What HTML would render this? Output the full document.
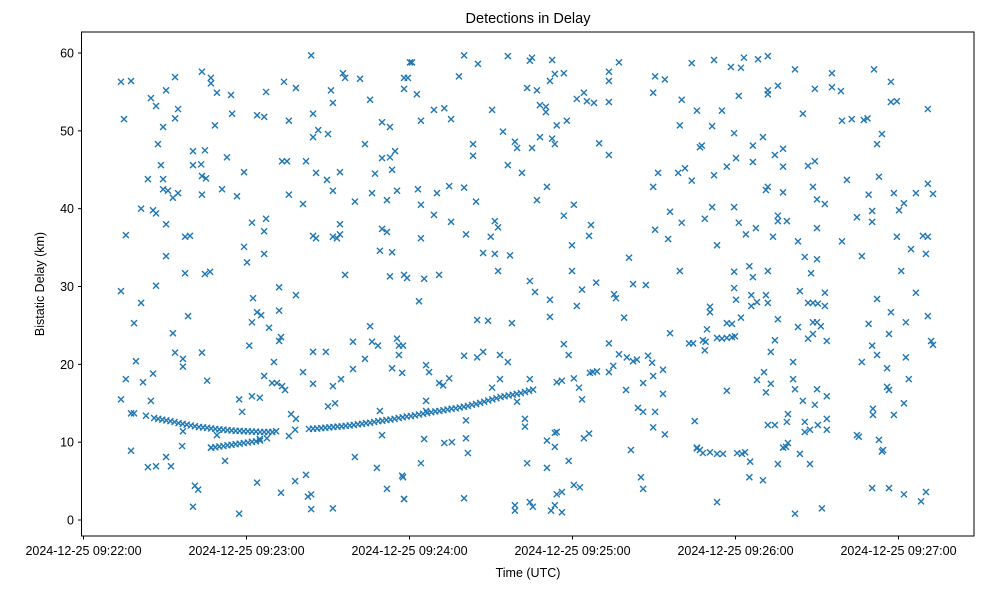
<!DOCTYPE html>
<html><head><meta charset="utf-8"><style>
html,body{margin:0;padding:0;background:#fff;}
svg text{font-family:"Liberation Sans","DejaVu Sans",sans-serif;fill:#000;}
</style></head><body>
<svg id="chart" width="983" height="590" viewBox="0 0 983 590" xmlns="http://www.w3.org/2000/svg">
<rect width="983" height="590" fill="#fff"/>
<text x="528" y="23" font-size="14.5" text-anchor="middle">Detections in Delay</text>
<text x="528" y="577" font-size="12.5" text-anchor="middle">Time (UTC)</text>
<text x="44" y="284" font-size="12.5" text-anchor="middle" transform="rotate(-90 44 284)">Bistatic Delay (km)</text>
<g id="marks"></g>
<g id="axes"></g>
<rect x="81.5" y="32" width="892.5" height="504" fill="none" stroke="#000" stroke-width="1"/>
</svg>
<script>
const xTickLabels = ["2024-12-25 09:22:00","2024-12-25 09:23:00","2024-12-25 09:24:00","2024-12-25 09:25:00","2024-12-25 09:26:00","2024-12-25 09:27:00"];
const xTickSeconds = [0,60,120,180,240,300];
const yTickValues = [0,10,20,30,40,50,60];
// seconds after 09:22:00 and delay in km
const scatterTimes = [13.8,17.5,14.9,24.8,26.7,30.4,33.7,34.8,33.7,29.3,27.4,28.5,23.7,29.3,29.3,31.1,32.9,34.8,21.2,25.6,26.7,30.4,15.6,37.4,39.2,30.4,37.4,44.7,46.6,43.6,46.9,46.9,49.1,54.3,48.4,54.7,40.3,44.7,40.3,43.3,43.6,45.1,43.6,51.0,56.5,52.8,59.1,62.0,67.2,66.5,59.1,60.2,66.5,63.9,66.5,67.2,73.8,78.2,75.6,83.8,84.5,86.4,84.5,90.0,91.1,91.8,95.5,96.3,101.8,105.5,73.1,74.9,81.9,85.6,89.6,94.4,91.8,75.6,80.8,103.6,99.9,106.2,107.3,109.9,112.8,109.9,112.8,114.7,113.6,115.4,111.7,84.5,85.6,91.8,93.3,94.4,94.4,109.9,111.7,109.1,113.6,96.3,112.8,118.0,118.0,118.0,120.2,
13.8,26.7,21.2,18.6,38.5,32.9,15.6,19.3,21.9,25.6,13.8,24.8,17.5,18.6,23.0,33.7,36.6,36.6,43.6,45.5,36.6,36.3,17.5,30.4,23.7,26.7,32.2,41.0,42.2,40.3,57.3,52.1,46.9,49.1,62.4,72.0,78.2,63.9,65.4,72.0,62.0,68.3,72.0,72.7,61.0,70.1,66.5,69.4,71.2,73.1,74.2,57.3,62.0,64.9,58.4,80.8,84.5,84.5,89.2,91.8,94.8,90.0,92.6,99.2,99.2,103.6,105.5,106.2,108.4,115.4,116.1,116.1,117.6,113.6,117.3,109.1,109.9,76.4,78.2,77.9,75.6,70.9,64.9,67.5,99.9,108.0,117.3,111.7,118.0,63.9,72.7,77.9,81.9,82.6,83.8,83.8,91.8,
119.1,125.4,130.9,123.5,144.9,148.9,157.7,164.3,166.2,171.7,171.7,181.6,183.5,188.7,195.3,196.0,202.3,207.0,199.0,215.9,222.9,224.4,193.4,197.1,200.0,202.3,203.7,207.8,209.3,213.3,209.7,206.0,199.7,213.3,204.1,206.0,210.4,209.7,214.0,225.0,225.8,201.5,205.2,206.0,193.4,195.0,186.4,187.5,189.0,176.8,178.6,174.2,176.1,180.5,182.4,183.5,144.9,147.1,153.3,156.2,140.1,126.1,127.2,130.9,132.4,134.6,150.4,153.3,164.3,126.1,126.1,140.8,159.6,162.5,162.5,125.4,132.8,135.6,140.8,141.5,124.2,163.3,170.6,178.6,170.6,173.5,174.2,173.5,184.2,186.1,117.6,118.0,140.1,158.8,158.8,164.3,165.4,172.1,173.5,176.1,174.2,176.1,180.5,182.7,
120.9,119.4,122.7,140.1,145.2,138.2,156.2,164.3,165.1,172.5,163.3,166.9,171.7,173.5,176.8,193.4,193.4,197.1,193.4,181.6,184.2,185.3,187.9,210.4,214.0,209.7,223.9,220.2,225.8,219.5,129.0,132.8,135.3,124.2,150.4,168.0,170.2,170.2,174.2,177.9,154.4,158.8,159.6,165.1,168.0,172.5,173.5,189.8,193.4,143.4,143.4,156.2,161.4,123.1,130.1,134.6,140.1,144.5,124.2,129.0,135.3,140.8,124.2,151.4,152.6,149.9,166.9,170.6,176.8,180.5,186.8,186.1,179.8,147.1,151.4,157.0,152.6,179.8,200.8,209.7,211.5,218.9,221.4,223.9,215.9,220.2,210.4,215.2,219.5,226.9,
232.1,238.3,242.0,243.1,248.3,251.9,261.9,275.5,291.0,297.2,241.2,251.9,251.9,255.6,269.2,275.5,278.8,297.2,299.4,310.8,235.0,264.8,279.2,282.8,287.2,288.6,231.4,239.5,250.1,293.9,292.1,227.6,246.4,240.2,236.8,246.4,254.5,257.5,257.5,266.7,269.2,232.1,251.2,251.9,257.5,268.5,281.0,292.8,310.8,312.7,298.3,306.4,289.0,270.0,272.9,302.0,300.2,290.3,290.3,284.7,231.4,239.5,228.7,241.2,247.5,243.8,255.6,255.6,258.9,253.8,270.0,263.0,279.2,299.4,309.0,310.8,304.6,310.1,233.2,265.5,270.0,286.5,239.5,245.1,246.4,251.9,267.8,301.0,
239.5,240.2,245.8,245.8,247.9,251.2,251.9,263.7,272.9,266.7,268.5,270.3,272.9,230.6,230.6,236.8,238.7,242.0,255.6,263.0,268.5,270.0,271.4,268.5,266.7,273.6,254.5,253.0,229.5,228.7,261.2,250.5,247.9,253.0,251.2,261.2,261.9,270.0,273.6,264.8,269.2,236.8,251.9,254.5,258.9,259.3,265.5,265.5,267.4,270.3,273.6,273.6,245.4,255.6,245.1,250.1,233.2,257.5,259.3,258.6,263.7,267.4,261.9,271.8,
289.0,297.2,302.7,310.8,306.4,292.1,296.5,290.3,292.1,286.5,295.8,302.7,303.8,312.0,312.7,295.8,296.5,302.0,290.6,290.6,298.3,284.7,285.4,292.8,294.3,293.9,290.3,296.5,302.0,310.1,308.3,
225.8,226.9,228.0,230.6,233.2,235.4,240.6,242.4,243.5,228.0,229.0,233.2,235.0,236.8,238.7,239.8];
const scatterDelays = [56.3,56.4,51.5,54.2,53.2,55.2,56.9,52.8,51.6,50.5,48.3,45.6,43.8,43.8,42.5,42.3,41.4,42.0,40.0,39.8,39.4,38.0,36.6,36.4,36.5,33.9,31.7,31.6,31.9,57.6,56.8,56.1,54.9,54.6,50.7,52.2,47.4,47.5,45.6,45.7,44.2,43.9,41.8,42.5,41.6,46.6,44.7,38.2,38.7,37.1,35.1,33.1,34.2,52.0,51.8,55.0,56.3,55.5,51.3,59.7,52.2,50.1,49.2,49.6,55.2,53.6,57.4,56.8,56.7,54.0,46.1,46.1,46.1,44.6,43.7,44.7,42.3,41.8,40.6,48.3,40.9,42.0,44.5,51.1,50.5,46.5,46.6,47.4,45.0,42.3,41.1,36.5,36.2,36.4,36.2,36.7,38.0,37.4,37.0,34.6,34.4,31.5,31.3,31.5,56.8,55.4,58.8,
29.4,30.1,27.9,25.3,26.2,24.0,18.1,20.4,17.7,18.8,15.5,15.3,13.7,13.7,13.4,21.5,20.7,19.7,21.5,17.9,11.4,9.5,8.9,8.1,6.8,6.9,6.9,4.4,3.9,1.7,0.8,7.6,9.3,10.9,28.5,29.9,28.9,26.7,26.3,26.9,25.4,24.7,23.0,23.5,22.4,20.3,18.5,17.6,17.6,17.2,16.7,15.5,15.9,15.7,13.9,19.0,17.5,21.6,21.6,17.2,18.1,14.6,15.0,22.9,19.4,20.7,24.9,22.9,22.4,23.3,22.4,21.2,22.4,19.5,18.9,14.0,10.9,13.6,13.0,11.6,10.8,11.4,10.4,10.5,8.1,6.7,5.7,4.0,2.7,4.8,3.5,5.0,5.8,3.0,3.3,1.4,1.5,
31.1,31.0,31.5,28.1,25.7,25.6,25.3,30.7,29.3,28.3,26.1,27.5,29.6,30.5,29.0,28.5,30.3,30.2,26.0,24.0,22.7,22.7,22.7,21.3,20.9,20.4,20.6,21.1,20.2,19.3,18.5,17.6,16.7,16.2,14.4,13.9,13.9,11.9,11.0,12.7,9.2,9.0,5.5,4.0,19.0,19.8,18.9,19.0,19.1,22.6,21.2,17.7,17.9,18.2,17.0,15.5,20.9,21.6,21.2,20.3,21.1,19.9,19.0,17.6,17.3,18.2,17.0,18.1,18.1,15.3,14.0,12.8,15.2,13.0,12.0,10.4,9.9,10.0,10.5,8.6,7.3,7.3,6.7,7.6,10.2,11.2,11.3,9.4,10.5,11.1,5.5,2.7,2.8,1.9,1.2,2.3,1.7,1.2,1.9,1.0,3.3,3.6,4.5,4.2,
58.8,56.8,54.7,59.7,58.6,57.0,59.6,59.0,59.4,59.1,55.5,55.2,56.4,57.3,57.4,57.6,56.4,58.8,53.7,54.1,54.9,53.8,53.6,57.0,56.6,54.9,58.7,54.0,52.6,50.7,52.7,52.9,51.5,51.3,52.7,53.3,53.1,52.4,50.7,51.3,49.9,48.6,47.8,47.8,49.2,49.0,48.3,48.4,46.9,48.3,46.8,45.6,44.6,42.5,42.0,42.9,42.7,40.9,40.5,39.2,38.3,36.7,36.2,38.4,37.6,36.4,41.1,42.8,39.1,40.5,37.9,36.5,35.3,34.3,34.2,34.0,32.0,32.0,33.7,42.8,44.6,44.6,45.2,43.6,39.6,38.2,37.3,36.1,32.0,47.9,
59.1,58.2,58.1,59.4,59.2,59.6,57.9,57.4,57.9,56.3,54.5,55.2,54.7,55.8,55.4,55.6,55.1,53.7,53.8,52.8,52.6,52.2,51.3,51.5,51.4,51.6,50.6,49.7,49.2,49.6,48.3,48.1,48.1,46.5,45.4,46.0,46.9,47.7,45.4,45.5,46.1,44.3,42.4,42.8,42.1,42.8,43.7,44.1,43.2,41.9,42.0,42.0,41.8,41.2,40.6,40.7,39.8,39.7,38.3,38.9,40.2,40.2,38.7,38.2,37.5,36.7,39.1,38.4,38.4,36.4,37.5,35.8,35.8,36.4,36.5,36.4,34.8,34.2,35.3,33.8,33.5,33.9,31.9,32.6,31.2,32.0,31.7,32.0,
29.8,28.3,28.9,27.5,28.0,28.9,27.9,29.4,29.2,27.9,27.9,27.8,27.5,27.4,26.7,25.3,25.2,26.0,25.8,24.8,25.4,25.4,24.9,23.9,23.3,23.0,23.1,21.6,24.5,21.8,20.3,19.0,18.0,17.5,16.4,18.1,16.8,16.8,15.9,15.3,14.8,16.6,12.2,12.2,12.6,13.6,12.6,11.3,11.6,12.2,13.0,11.6,7.5,7.2,5.5,5.1,2.3,9.3,9.9,9.4,8.5,7.2,0.8,1.5,
25.2,26.7,25.4,26.2,29.2,28.4,23.9,22.4,21.2,20.3,19.5,20.9,18.1,23.0,22.5,17.1,16.7,15.0,14.3,13.5,13.5,10.9,10.7,10.3,9.0,8.8,4.1,4.1,3.3,3.6,2.4,
9.3,9.0,8.6,8.7,8.5,8.5,8.6,8.5,8.7,23.1,22.9,23.4,23.3,23.4,23.5,23.6];
const trackATimes = [26,27.5,29,30.5,32,33.5,35,36.5,38,39.5,41,42.5,44,45.5,47,48.5,50,51.5,53,54.5,56,57.5,59,60.5,62,63.5,65,66.5,68,69.5];
const trackADelays = [13.1,13.0,12.9,12.8,12.7,12.6,12.45,12.35,12.25,12.15,12.05,11.95,11.9,11.85,11.75,11.7,11.65,11.6,11.55,11.5,11.45,11.45,11.4,11.4,11.35,11.35,11.3,11.3,11.3,11.3];
const trackBTimes = [47,48.5,50,51.5,53,54.5,56,57.5,59,60.5,62,63.5,65];
const trackBDelays = [9.3,9.35,9.45,9.5,9.6,9.65,9.75,9.8,9.9,9.95,10.05,10.1,10.2];
const trackCTimes = [83,84.5,86,87.5,89,90.5,92,93.5,95,96.5,98,99.5,101,102.5,104,105.5,107,108.5,110,111.5,113,114.5,116,117.5,119,120.5,122,123.5,125,126.5,128,129.5,131,132.5,134,135.5,137,138.5,140,141.5,143,144.5,146,147.5,149,150.5,152,153.5,155,156.5,158,159.5,161,162.5,164,165.5];
const trackCDelays = [11.7,11.72,11.75,11.8,11.85,11.9,11.95,12.0,12.03,12.1,12.15,12.2,12.3,12.35,12.45,12.5,12.6,12.7,12.75,12.85,12.9,13.0,13.1,13.2,13.3,13.35,13.45,13.55,13.65,13.75,13.85,13.95,14.0,14.1,14.2,14.3,14.35,14.45,14.55,14.65,14.8,14.9,15.05,15.2,15.35,15.5,15.65,15.8,15.9,16.0,16.1,16.2,16.3,16.45,16.6,16.75];

const NS='http://www.w3.org/2000/svg';
function xScale(t){ return 83.5 + t*163/60; }
function yScale(d){ return 520 - d*7.783; }
const marks=document.getElementById('marks');
function drawSeries(ts, ds){
  for(let i=0;i<ts.length && i<ds.length;i++){
    const x=xScale(ts[i]), y=yScale(ds[i]), r=3;
    const p=document.createElementNS(NS,'path');
    p.setAttribute('d',`M${x-r},${y-r}L${x+r},${y+r}M${x-r},${y+r}L${x+r},${y-r}`);
    p.setAttribute('stroke','#1f77b4');
    p.setAttribute('stroke-width','1.4');
    p.setAttribute('fill','none');
    
    
    marks.appendChild(p);
  }
}
drawSeries(scatterTimes, scatterDelays);
drawSeries(trackATimes, trackADelays);
drawSeries(trackBTimes, trackBDelays);
drawSeries(trackCTimes, trackCDelays);

const axes=document.getElementById('axes');
xTickSeconds.forEach((s,i)=>{
  const x=xScale(s);
  const l=document.createElementNS(NS,'line');
  l.setAttribute('x1',x);l.setAttribute('x2',x);l.setAttribute('y1',536);l.setAttribute('y2',539.5);
  l.setAttribute('stroke','#000');
  
  
  axes.appendChild(l);
  const t=document.createElementNS(NS,'text');
  t.setAttribute('x',x);t.setAttribute('y',555);t.setAttribute('font-size','12.5');t.setAttribute('text-anchor','middle');
  t.textContent=xTickLabels[i];
  
  
  axes.appendChild(t);
});
yTickValues.forEach(v=>{
  const y=yScale(v);
  const l=document.createElementNS(NS,'line');
  l.setAttribute('x1',78);l.setAttribute('x2',81.5);l.setAttribute('y1',y);l.setAttribute('y2',y);
  l.setAttribute('stroke','#000');
  
  
  axes.appendChild(l);
  const t=document.createElementNS(NS,'text');
  t.setAttribute('x',74);t.setAttribute('y',y+4.5);t.setAttribute('font-size','12.5');t.setAttribute('text-anchor','end');
  t.textContent=String(v);
  
  
  axes.appendChild(t);
});
</script>
</body></html>
